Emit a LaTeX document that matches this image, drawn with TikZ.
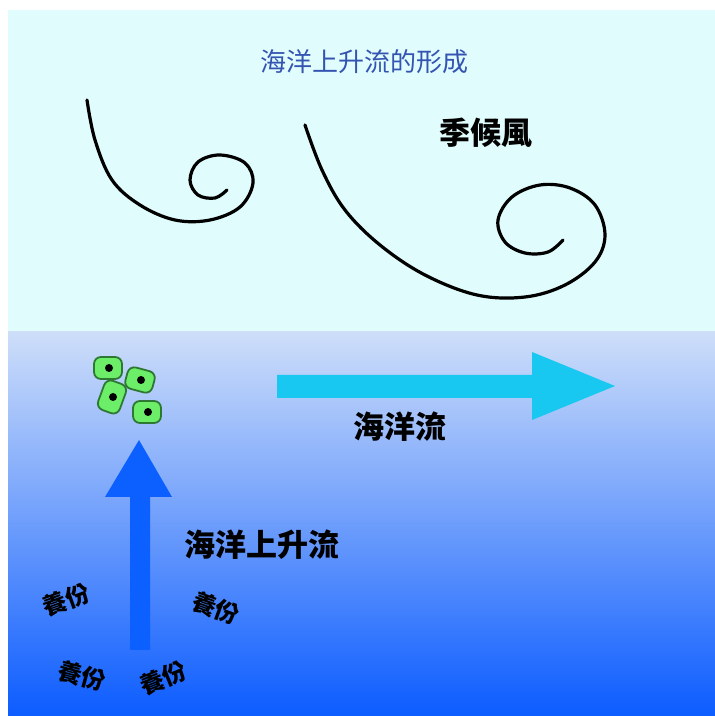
\documentclass[tikz,border=0pt]{standalone}
\usepackage{fontspec}
\newfontfamily\cjk{Noto Sans CJK TC}
\usetikzlibrary{shapes.geometric}
\definecolor{sky}{RGB}{224,252,252}
\definecolor{seatop}{RGB}{206,222,249}
\definecolor{seamid}{RGB}{100,150,244}
\definecolor{seabot}{RGB}{12,92,255}
\definecolor{titleblue}{RGB}{52,84,178}
\definecolor{flowcyan}{RGB}{24,200,240}
\definecolor{upblue}{RGB}{12,96,255}
\definecolor{cellfill}{RGB}{108,238,104}
\definecolor{celledge}{RGB}{46,120,52}
\begin{document}
\begin{tikzpicture}[x=1pt,y=1pt,
  label/.style={font=\cjk\bfseries\fontsize{31}{31}\selectfont, text=black, inner sep=0pt},
  nutrient/.style={font=\cjk\bfseries\fontsize{24}{24}\selectfont, text=black, inner sep=0pt},
  wind/.style={line width=3.2pt, line cap=round, line join=round, black},
  cell/.style={draw=celledge, fill=cellfill, line width=1.8pt, rounded corners=7pt,
    minimum width=28pt, minimum height=22pt, inner sep=0pt},
  nucleus/.style={circle, fill=black, minimum size=8pt, inner sep=0pt}]
\useasboundingbox (0,0) rectangle (715,716);
\fill[white] (0,0) rectangle (715,716);
% air above the sea
\fill[sky] (8,384) rectangle (715,706);
% sea water, growing darker with depth
\shade[top color=seatop, middle color=seamid, bottom color=seabot] (8,0) rectangle (715,384);

\node[font=\cjk\fontsize{26}{26}\selectfont, text=titleblue] (title) at (364,654) {海洋上升流的形成};

% monsoon wind swirls
\draw[wind] plot[smooth, tension=0.6] coordinates {
  (87,616) (95,576) (112,536) (140,511) (175,496) (210,496) (240,509) (253,533)
  (245,553) (220,561) (198,554) (190,536) (198,521) (215,518) (227,526)};
\draw[wind] plot[smooth, tension=0.6] coordinates {
  (305,591) (322,546) (345,506) (380,471) (425,441) (477,421) (525,419) (565,431)
  (595,454) (605,481) (595,511) (570,528) (540,531) (512,519) (498,496) (505,474)
  (525,463) (548,464) (563,476)};
\node[label] (monsoon) at (486,583) {季候風};

% plankton cells
\node[cell] (c1) at (108,348) {};
\node[cell, rotate=-15] (c2) at (140,336) {};
\node[cell, rotate=70, minimum width=31pt, minimum height=23pt] (c3) at (112,319) {};
\node[cell] (c4) at (147,304) {};
\foreach \c in {c1,c2,c3,c4} \node[nucleus] at ([xshift=1pt]\c.center) {};

% surface current arrow
\fill[flowcyan] (277,341) -- (532,341) -- (532,364) -- (615,330) -- (532,296)
  -- (532,318) -- (277,318) -- cycle;
\node[label] (current) at (400,289) {海洋流};

% upwelling arrow
\fill[upblue] (130,66) -- (150,66) -- (150,219) -- (172,219) -- (139,276)
  -- (105,219) -- (130,219) -- cycle;
\node[label] (upwell) at (262,171) {海洋上升流};

% nutrients rising from the deep
\node[nutrient, rotate=20] (n1) at (66,116) {養份};
\node[nutrient, rotate=-20] (n2) at (216,108) {養份};
\node[nutrient, rotate=-15] (n3) at (82,40) {養份};
\node[nutrient, rotate=22] (n4) at (163,38) {養份};
\end{tikzpicture}
\end{document}
